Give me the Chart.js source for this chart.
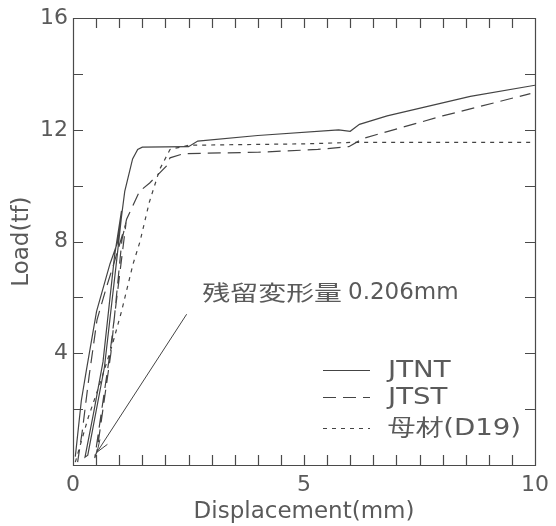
<!DOCTYPE html>
<html><head><meta charset="utf-8">
<script src="https://cdn.jsdelivr.net/npm/chart.js@4.4.1/dist/chart.umd.min.js"></script>
<style>html,body{margin:0;padding:0;background:#fff}#wrap{width:556px;height:526px;position:relative}</style>
</head><body><div id="wrap"><canvas id="c"></canvas></div>
<script>
// ---- data ----
const seriesNames = ['JTNT', 'JTST', '母材(D19)'];
const jtntX = [0.05, 0.18, 0.29, 0.51, 0.80, 0.97, 1.05, 0.90, 0.65, 0.45, 0.26, 0.32, 0.68, 0.95, 1.05, 1.12, 1.29, 1.40, 1.50, 2.50, 2.70, 4.00, 5.75, 6.00, 6.20, 6.80, 8.60, 10.0];
const jtntY = [0.3, 2.3, 3.4, 5.5, 7.2, 8.0, 9.1, 7.5, 3.7, 1.9, 0.28, 0.35, 3.5, 7.4, 8.9, 9.8, 10.96, 11.3, 11.38, 11.4, 11.6, 11.8, 12.0, 11.95, 12.2, 12.5, 13.2, 13.6];
const jtstX = [0.10, 0.20, 0.35, 0.52, 0.73, 0.90, 1.08, 1.15, 0.80, 0.47, 0.52, 0.82, 1.06, 1.16, 1.30, 1.44, 1.66, 2.02, 2.10, 2.40, 4.00, 5.30, 5.97, 6.29, 8.00, 9.90];
const jtstY = [0.1, 1.2, 3.2, 5.2, 6.4, 7.3, 8.3, 8.7, 4.0, 0.25, 0.5, 4.0, 8.07, 8.8, 9.3, 9.8, 10.1, 10.7, 11.0, 11.15, 11.2, 11.3, 11.4, 11.7, 12.5, 13.3];
const baseX = [0.05, 0.19, 0.33, 0.60, 0.85, 1.05, 1.30, 1.45, 1.65, 1.88, 2.10, 2.50, 5.00, 6.00, 10.0];
const baseY = [0.1, 0.9, 1.7, 3.0, 4.3, 5.5, 7.2, 8.0, 9.4, 10.6, 11.3, 11.45, 11.5, 11.55, 11.55];
const xTickLabels = [0, 5, 10];
const yTickLabels = [4, 8, 12, 16];
const xMinorTicks = [0.5, 1, 1.5, 2, 2.5, 3, 3.5, 4, 4.5, 5, 5.5, 6, 6.5, 7, 7.5, 8, 8.5, 9, 9.5];
const yMinorTicks = [2, 4, 6, 8, 10, 12, 14];
const annotationText = ['残留変形量', '0.206mm'];
const annotationAt = [2.80, 6.19];      // text position (mm, tf)
const arrowFrom = [2.46, 5.4];          // arrow tail (mm, tf)
const arrowTo = [0.52, 0.46];           // arrow tip (mm, tf)

const pts = (xs, ys) => xs.map((x, i) => ({x, y: ys[i]}));
const INK = '#444';
const TXT = '#5a5a5a';
const FONT = '"DejaVu Sans", sans-serif';
const styles = [
  {dash: []},
  {dash: [13, 7]},
  {dash: [4, 5]}
];

const framePlugin = {
  id: 'frame',
  afterDraw(chart) {
    const ctx = chart.ctx, a = chart.chartArea;
    const sx = chart.scales.x, sy = chart.scales.y;
    ctx.save();
    ctx.setLineDash([]);
    const L = Math.round(a.left), R = Math.round(a.right), T = Math.round(a.top), B = Math.round(a.bottom);
    const tl = 10;
    ctx.strokeStyle = '#4a4a4a';
    ctx.lineWidth = 1.2;
    ctx.beginPath();
    ctx.rect(L + 0.5, T + 0.5, R - L, B - T);
    xMinorTicks.forEach(v => {
      const px = Math.round(sx.getPixelForValue(v)) + 0.5;
      ctx.moveTo(px, B); ctx.lineTo(px, B - tl);
      ctx.moveTo(px, T); ctx.lineTo(px, T + tl);
    });
    yMinorTicks.forEach(v => {
      const py = Math.round(sy.getPixelForValue(v)) + 0.5;
      ctx.moveTo(L, py); ctx.lineTo(L + tl, py);
      ctx.moveTo(R, py); ctx.lineTo(R - tl, py);
    });
    ctx.stroke();

    // annotation arrow
    const x0 = sx.getPixelForValue(arrowFrom[0]), y0 = sy.getPixelForValue(arrowFrom[1]);
    const x1 = sx.getPixelForValue(arrowTo[0]), y1 = sy.getPixelForValue(arrowTo[1]);
    ctx.strokeStyle = '#444';
    ctx.lineWidth = 1;
    ctx.beginPath(); ctx.moveTo(x0, y0); ctx.lineTo(x1, y1);
    const ang = Math.atan2(y1 - y0, x1 - x0), hl = 13;
    ctx.moveTo(x1, y1); ctx.lineTo(x1 - hl * Math.cos(ang - 0.35), y1 - hl * Math.sin(ang - 0.35));
    ctx.moveTo(x1, y1); ctx.lineTo(x1 - hl * Math.cos(ang + 0.35), y1 - hl * Math.sin(ang + 0.35));
    ctx.stroke();

    // annotation text
    const tx = sx.getPixelForValue(annotationAt[0]), ty = sy.getPixelForValue(annotationAt[1]);
    ctx.fillStyle = TXT;
    ctx.textBaseline = 'middle';
    ctx.textAlign = 'left';
    ctx.font = '21px "Noto Sans CJK JP", sans-serif';
    const w = ctx.measureText(annotationText[0]).width;
    ctx.save(); ctx.translate(tx, ty); ctx.scale(1.33, 1); ctx.fillText(annotationText[0], 0, 0); ctx.restore();
    ctx.font = '23px ' + FONT;
    ctx.fillText(annotationText[1], tx + w * 1.33 + 6, ty + 1);

    // legend
    const lx0 = R - 212, lx1 = R - 165, ltx = R - 147;
    const rows = [B - 95, B - 68, B - 37];
    chart.data.datasets.forEach((ds, i) => {
      ctx.strokeStyle = ds.borderColor; ctx.lineWidth = ds.borderWidth;
      ctx.setLineDash(ds.borderDash || []);
      ctx.beginPath(); ctx.moveTo(lx0, rows[i] + 0.5); ctx.lineTo(lx1, rows[i] + 0.5); ctx.stroke();
      ctx.setLineDash([]);
      ctx.font = '23px ' + FONT;
      ctx.fillStyle = TXT;
      ctx.save(); ctx.translate(ltx, rows[i] + 1); ctx.scale(1.2, 1);
      ctx.fillText(ds.label, 0, 0);
      ctx.restore();
    });
    ctx.restore();
  }
};

new Chart(document.getElementById('c'), {
  type: 'scatter',
  data: {
    datasets: [
      {label: seriesNames[0], data: pts(jtntX, jtntY)},
      {label: seriesNames[1], data: pts(jtstX, jtstY)},
      {label: seriesNames[2], data: pts(baseX, baseY)}
    ].map((d, i) => Object.assign(d, {
      showLine: true, borderColor: INK, borderWidth: 1.2, borderDash: styles[i].dash,
      pointRadius: 0, fill: false, tension: 0
    }))
  },
  options: {
    responsive: true, maintainAspectRatio: false, animation: false,
    layout: {padding: {top: 15, right: 19, left: 0, bottom: 0}},
    plugins: {legend: {display: false}, tooltip: {enabled: false}},
    scales: {
      x: {
        type: 'linear', min: 0, max: 10,
        grid: {display: false, drawTicks: false}, border: {display: false},
        afterBuildTicks: s => { s.ticks = xTickLabels.map(v => ({value: v})); },
        ticks: {autoSkip: false, maxRotation: 0, padding: 7, color: TXT, font: {family: FONT, size: 22}},
        afterFit: s => { s.height = 61; },
        title: {display: true, text: 'Displacement(mm)', color: TXT, font: {family: FONT, size: 23}, padding: {top: 0, bottom: 0}}
      },
      y: {
        type: 'linear', min: 0, max: 16,
        grid: {display: false, drawTicks: false}, border: {display: false},
        afterBuildTicks: s => { s.ticks = yTickLabels.map(v => ({value: v})); },
        ticks: {autoSkip: false, padding: 5, color: TXT, font: {family: FONT, size: 22}},
        afterFit: s => { s.width = 73; },
        title: {display: true, text: 'Load(tf)', color: TXT, font: {family: FONT, size: 23}, padding: {top: 8, bottom: 0}}
      }
    }
  },
  plugins: [framePlugin]
});
</script></body></html>
